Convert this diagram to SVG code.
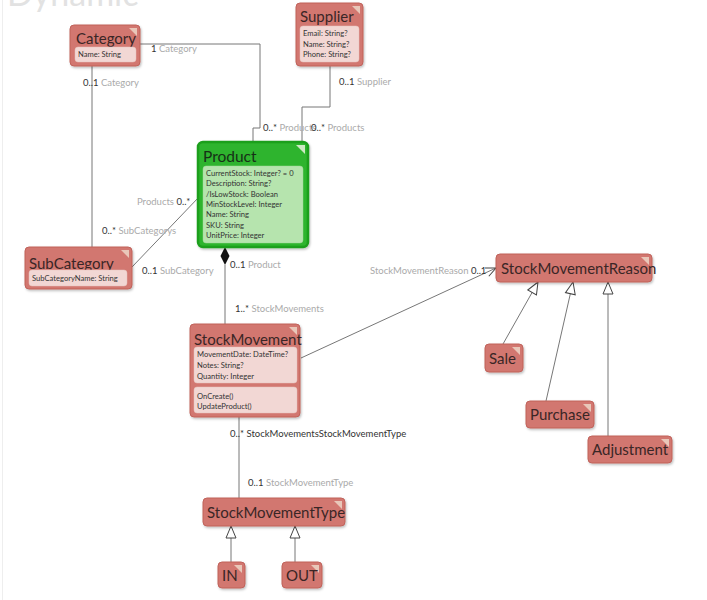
<svg xmlns="http://www.w3.org/2000/svg" width="707" height="600" viewBox="0 0 707 600">
<defs>
<style>
text{font-family:"Segoe UI",Lato,"Liberation Sans",sans-serif;}
.node{fill:#d2776f;stroke:#c0635b;stroke-width:1;filter:url(#sh);}
.title{font-size:15px;fill:#3a2626;}
.attrbox{fill:#f2d7d4;stroke:#e7c2bd;stroke-width:0.5;}
.gattr{fill:#b6e4ae;stroke:#9fd896;stroke-width:0.5;}
.attr{font-size:7.6px;fill:#333;}
.corner{fill:#e9c7b9;}
.gcorner{fill:#cde9c4;}
.conn{fill:none;stroke:#777;stroke-width:1;}
.lbl{font-size:9.5px;fill:#aaa;}
.m{fill:#333;}
</style>
<filter id="sh" x="-10%" y="-10%" width="130%" height="140%">
<feDropShadow dx="1" dy="1.5" stdDeviation="1.2" flood-color="#000" flood-opacity="0.25"/>
</filter>
<marker id="gen" viewBox="-14 -7 15 14" markerWidth="15" markerHeight="14" refX="0" refY="0" orient="auto" markerUnits="userSpaceOnUse">
<path d="M0,0 L-12,-5 L-12,5 Z" fill="#fff" stroke="#444" stroke-width="1"/>
</marker>
<marker id="open" viewBox="-12 -6 13 12" markerWidth="13" markerHeight="12" refX="0" refY="0" orient="auto" markerUnits="userSpaceOnUse">
<path d="M-10,-4.5 L0,0 L-10,4.5" fill="none" stroke="#444" stroke-width="1"/>
</marker>
</defs>
<rect width="707" height="600" fill="#fff"/>
<line x1="2.5" y1="0" x2="2.5" y2="600" stroke="#eee" stroke-width="1"/>
<text x="7" y="6" style="font-size:34px;fill:#e2e2e2;">Dynamic</text>

<g id="connectors">
<polyline class="conn" points="140,44 260,44 260,128 253,128 253,142"/>
<polyline class="conn" points="330,66 330,107 302,107 302,142"/>
<line class="conn" x1="92" y1="66" x2="92" y2="247"/>
<line class="conn" x1="132" y1="267" x2="199" y2="197"/>
<line class="conn" x1="225" y1="265" x2="225" y2="324"/>
<polygon points="225,247 229.5,256 225,265 220.5,256" fill="#111"/>
<line class="conn" x1="301" y1="358" x2="496" y2="268" marker-end="url(#open)"/>
<line class="conn" x1="503" y1="344" x2="538" y2="282" marker-end="url(#gen)"/>
<line class="conn" x1="546" y1="401" x2="573" y2="282" marker-end="url(#gen)"/>
<line class="conn" x1="608" y1="436" x2="608" y2="282" marker-end="url(#gen)"/>
<line class="conn" x1="239" y1="417" x2="239" y2="498"/>
<line class="conn" x1="231" y1="562" x2="231" y2="526" marker-end="url(#gen)"/>
<line class="conn" x1="295" y1="562" x2="295" y2="526" marker-end="url(#gen)"/>

<text class="lbl" x="151" y="52"><tspan class="m">1</tspan> Category</text>
<text class="lbl" x="83" y="86"><tspan class="m">0..1</tspan> Category</text>
<text class="lbl" x="102" y="234"><tspan class="m">0..*</tspan> SubCategorys</text>
<text class="lbl" x="137" y="205">Products <tspan class="m">0..*</tspan></text>
<text class="lbl" x="142" y="274"><tspan class="m">0..1</tspan> SubCategory</text>
<text class="lbl" x="263" y="131"><tspan class="m">0..*</tspan> Products</text>
<text class="lbl" x="311" y="131"><tspan class="m">0..*</tspan> Products</text>
<text class="lbl" x="339" y="85"><tspan class="m">0..1</tspan> Supplier</text>
<text class="lbl" x="230" y="268"><tspan class="m">0..1</tspan> Product</text>
<text class="lbl" x="235" y="312"><tspan class="m">1..*</tspan> StockMovements</text>
<text class="lbl" x="370" y="274">StockMovementReason <tspan class="m">0..1</tspan></text>
<text class="lbl m" x="230" y="437">0..* StockMovementsStockMovementType</text>
<text class="lbl" x="248" y="486"><tspan class="m">0..1</tspan> StockMovementType</text>
</g>

<g id="Category">
<rect class="node" x="70" y="25" width="70" height="41" rx="4"/>
<polygon class="corner" points="129,28 137,28 137,36"/>
<text class="title" x="76" y="44">Category</text>
<rect class="attrbox" x="75" y="47" width="61" height="15" rx="3"/>
<text class="attr" x="78" y="57">Name: String</text>
</g>

<g id="Supplier">
<rect class="node" x="296" y="3" width="67" height="63" rx="4"/>
<polygon class="corner" points="352,6 360,6 360,14"/>
<text class="title" x="300" y="22">Supplier</text>
<rect class="attrbox" x="300" y="26" width="59" height="36" rx="3"/>
<text class="attr" x="303" y="36">Email: String?</text>
<text class="attr" x="303" y="46.5">Name: String?</text>
<text class="attr" x="303" y="57">Phone: String?</text>
</g>

<g id="Product">
<rect x="198" y="142" width="110" height="105" rx="5" fill="#2db42d" stroke="#1f9f1f" stroke-width="2.5" filter="url(#sh)"/>
<polygon class="gcorner" points="296,145 305,145 305,154"/>
<text class="title" x="203" y="162" style="font-size:15.5px;fill:#163016;">Product</text>
<rect class="gattr" x="203" y="166" width="100" height="77" rx="3"/>
<text class="attr" x="206" y="176">CurrentStock: Integer? = 0</text>
<text class="attr" x="206" y="186.3">Description: String?</text>
<text class="attr" x="206" y="196.6">/IsLowStock: Boolean</text>
<text class="attr" x="206" y="207">MinStockLevel: Integer</text>
<text class="attr" x="206" y="217.3">Name: String</text>
<text class="attr" x="206" y="227.6">SKU: String</text>
<text class="attr" x="206" y="238">UnitPrice: Integer</text>
</g>

<g id="SubCategory">
<rect class="node" x="25" y="247" width="107" height="42" rx="4"/>
<polygon class="corner" points="121,250 129,250 129,258"/>
<text class="title" x="29" y="269">SubCategory</text>
<rect class="attrbox" x="29" y="270" width="98" height="16" rx="3"/>
<text class="attr" x="32" y="281">SubCategoryName: String</text>
</g>

<g id="StockMovement">
<rect class="node" x="190" y="324" width="110" height="93" rx="4"/>
<polygon class="corner" points="289,327 297,327 297,335"/>
<text class="title" x="194" y="345">StockMovement</text>
<rect class="attrbox" x="194" y="347" width="103" height="36" rx="3"/>
<text class="attr" x="197" y="357">MovementDate: DateTime?</text>
<text class="attr" x="197" y="368">Notes: String?</text>
<text class="attr" x="197" y="379">Quantity: Integer</text>
<rect class="attrbox" x="194" y="387" width="103" height="26" rx="3"/>
<text class="attr" x="197" y="398.5">OnCreate()</text>
<text class="attr" x="197" y="409">UpdateProduct()</text>
</g>

<g id="StockMovementReason">
<rect class="node" x="496" y="254" width="156" height="28" rx="4"/>
<polygon class="corner" points="641,257 649,257 649,265"/>
<text class="title" x="501" y="274">StockMovementReason</text>
</g>

<g id="Sale">
<rect class="node" x="485" y="344" width="38" height="28" rx="4"/>
<polygon class="corner" points="512,347 520,347 520,355"/>
<text class="title" x="489" y="364">Sale</text>
</g>

<g id="Purchase">
<rect class="node" x="526" y="401" width="68" height="27" rx="4"/>
<polygon class="corner" points="583,404 591,404 591,412"/>
<text class="title" x="530" y="420">Purchase</text>
</g>

<g id="Adjustment">
<rect class="node" x="588" y="436" width="84" height="27" rx="4"/>
<polygon class="corner" points="661,439 669,439 669,447"/>
<text class="title" x="592" y="455">Adjustment</text>
</g>

<g id="StockMovementType">
<rect class="node" x="203" y="498" width="142" height="28" rx="4"/>
<polygon class="corner" points="334,501 342,501 342,509"/>
<text class="title" x="207" y="518">StockMovementType</text>
</g>

<g id="IN">
<rect class="node" x="218" y="562" width="27" height="26" rx="4"/>
<polygon class="corner" points="234,565 242,565 242,573"/>
<text class="title" x="222" y="581">IN</text>
</g>

<g id="OUT">
<rect class="node" x="282" y="562" width="40" height="26" rx="4"/>
<polygon class="corner" points="311,565 319,565 319,573"/>
<text class="title" x="286" y="581">OUT</text>
</g>
</svg>
